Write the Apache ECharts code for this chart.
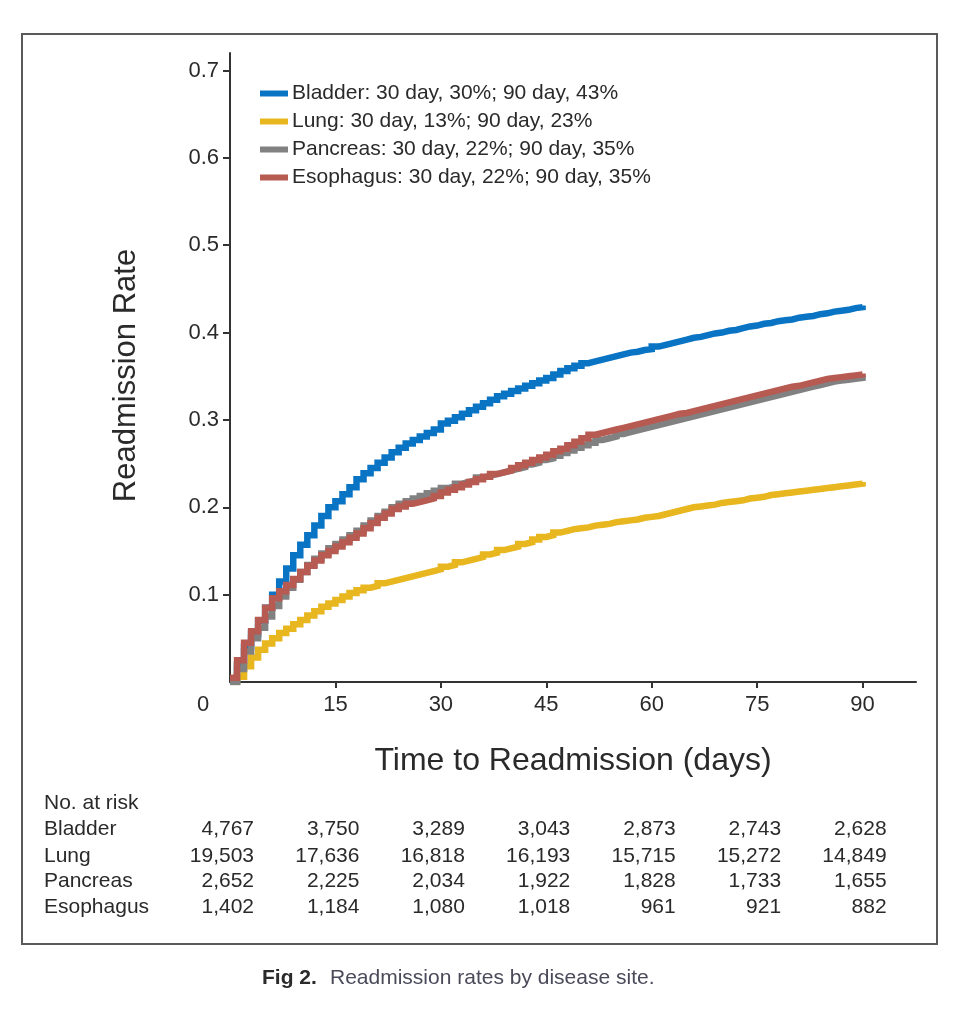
<!DOCTYPE html>
<html>
<head>
<meta charset="utf-8">
<script src="https://cdn.jsdelivr.net/npm/echarts@6/dist/echarts.min.js"></script>
<style>
html,body{margin:0;padding:0;background:#fff;}
#chart{width:978px;height:1032px;}
</style>
</head>
<body>
<div id="chart"></div>
<script>
// ---- data ----
var days = [];
for (var i = 0; i <= 90; i++) days.push(i);

var bladder = [0,0.02,0.04,0.055,0.07,0.085,0.10,0.115,0.13,0.145,0.157,0.168,0.179,0.19,0.20,0.207,0.215,0.223,0.232,0.239,0.245,0.251,0.257,0.263,0.268,0.273,0.277,0.281,0.285,0.289,0.296,0.299,0.303,0.307,0.311,0.315,0.319,0.323,0.327,0.330,0.333,0.336,0.339,0.342,0.345,0.348,0.352,0.356,0.359,0.362,0.365,0.367,0.369,0.371,0.373,0.375,0.377,0.378,0.380,0.381,0.384,0.386,0.388,0.390,0.392,0.394,0.395,0.397,0.399,0.400,0.402,0.403,0.405,0.407,0.408,0.410,0.411,0.413,0.414,0.415,0.417,0.418,0.419,0.421,0.422,0.424,0.425,0.426,0.428,0.429,0.431];

var lung = [0,0.006,0.018,0.028,0.037,0.044,0.050,0.056,0.061,0.066,0.071,0.076,0.081,0.086,0.090,0.094,0.098,0.102,0.105,0.108,0.110,0.113,0.115,0.117,0.119,0.121,0.123,0.125,0.127,0.129,0.132,0.134,0.137,0.139,0.141,0.143,0.146,0.148,0.151,0.153,0.155,0.158,0.160,0.163,0.166,0.168,0.171,0.173,0.175,0.176,0.177,0.179,0.180,0.181,0.183,0.184,0.185,0.186,0.188,0.189,0.190,0.192,0.194,0.196,0.198,0.200,0.201,0.202,0.203,0.205,0.206,0.207,0.208,0.210,0.211,0.212,0.214,0.215,0.216,0.217,0.218,0.219,0.220,0.221,0.222,0.223,0.224,0.225,0.226,0.227,0.229];

var pancreas = [0,0.015,0.035,0.05,0.062,0.075,0.087,0.098,0.108,0.117,0.126,0.134,0.141,0.147,0.153,0.158,0.163,0.168,0.173,0.179,0.185,0.190,0.195,0.200,0.204,0.207,0.210,0.213,0.216,0.219,0.222,0.224,0.227,0.229,0.231,0.234,0.236,0.238,0.240,0.242,0.244,0.246,0.249,0.251,0.254,0.256,0.259,0.262,0.265,0.268,0.271,0.274,0.277,0.279,0.281,0.284,0.286,0.288,0.290,0.292,0.294,0.296,0.298,0.300,0.302,0.304,0.306,0.308,0.310,0.312,0.314,0.316,0.318,0.320,0.322,0.324,0.326,0.328,0.330,0.332,0.334,0.336,0.338,0.340,0.342,0.344,0.345,0.346,0.347,0.348,0.350];

var esophagus = [0.005,0.025,0.045,0.058,0.071,0.085,0.096,0.104,0.111,0.118,0.126,0.133,0.139,0.145,0.150,0.155,0.160,0.165,0.170,0.176,0.182,0.188,0.193,0.198,0.201,0.204,0.206,0.208,0.210,0.213,0.217,0.220,0.223,0.226,0.229,0.232,0.235,0.238,0.240,0.242,0.245,0.248,0.251,0.254,0.257,0.260,0.264,0.267,0.271,0.275,0.279,0.283,0.285,0.287,0.289,0.291,0.293,0.295,0.297,0.299,0.301,0.303,0.305,0.307,0.308,0.310,0.312,0.314,0.316,0.318,0.320,0.322,0.324,0.326,0.328,0.330,0.332,0.334,0.336,0.338,0.339,0.341,0.343,0.345,0.347,0.348,0.349,0.350,0.351,0.352,0.353];

var seriesNames = ['Bladder: 30 day, 30%; 90 day, 43%','Lung: 30 day, 13%; 90 day, 23%','Pancreas: 30 day, 22%; 90 day, 35%','Esophagus: 30 day, 22%; 90 day, 35%'];
var xTickLabels = [0,15,30,45,60,75,90];
var yTickLabels = [0.1,0.2,0.3,0.4,0.5,0.6,0.7];

var riskSites = ['Bladder','Lung','Pancreas','Esophagus'];
var riskBladder = ['4,767','3,750','3,289','3,043','2,873','2,743','2,628'];
var riskLung = ['19,503','17,636','16,818','16,193','15,715','15,272','14,849'];
var riskPancreas = ['2,652','2,225','2,034','1,922','1,828','1,733','1,655'];
var riskEsophagus = ['1,402','1,184','1,080','1,018','961','921','882'];

// ---- chart ----
var colors = ['#0a74c4','#e8b61e','#818181','#b65a52'];
var chart = echarts.init(document.getElementById('chart'));
function pairs(arr){ return days.map(function(d,i){ return [d, arr[i]]; }); }
var allValues = [bladder, lung, pancreas, esophagus];
var FONT = '"Liberation Sans", Arial, sans-serif';

var option = {
  animation: false,
  backgroundColor: '#fff',
  grid: {left: 230, right: 62, top: 53, bottom: 350, containLabel: false},
  legend: {
    orient: 'vertical', left: 255, top: 78,
    itemWidth: 28, itemHeight: 6, itemGap: 7,
    icon: 'rect',
    textStyle: {fontFamily: FONT, fontSize: 21, color: '#2a2a2a', padding: [0,0,0,-1]},
    data: seriesNames
  },
  xAxis: {
    type: 'value', min: 0, max: 97.6,
    name: 'Time to Readmission (days)', nameLocation: 'middle', nameGap: 63,
    nameTextStyle: {fontFamily: FONT, fontSize: 32, color: '#2a2a2a'},
    axisLine: {show: true, onZero: false, lineStyle: {color: '#333', width: 2}},
    axisTick: {show: true, length: 6, lineStyle: {color: '#333', width: 2}, customValues: xTickLabels.slice(1)},
    axisLabel: {
      fontFamily: FONT, fontSize: 22, color: '#2a2a2a', margin: 12,
      customValues: xTickLabels,
      formatter: function(v){ return v === 0 ? '{z|0}' : String(v); },
      rich: {z: {fontFamily: FONT, fontSize: 22, color: '#2a2a2a', padding: [0,54,0,0]}}
    },
    splitLine: {show: false}
  },
  yAxis: {
    type: 'value', min: 0, max: 0.72,
    name: 'Readmission Rate', nameLocation: 'middle', nameGap: 88,
    nameTextStyle: {fontFamily: FONT, fontSize: 31, color: '#2a2a2a', padding: [0,16,0,0]},
    axisLine: {show: true, onZero: false, lineStyle: {color: '#333', width: 2}},
    axisTick: {show: true, length: 7, lineStyle: {color: '#333', width: 2}, customValues: yTickLabels},
    axisLabel: {fontFamily: FONT, fontSize: 22, color: '#2a2a2a', margin: 11, customValues: yTickLabels,
      formatter: function(v){ return v.toFixed(1); }},
    splitLine: {show: false}
  },
  series: seriesNames.map(function(n, i){
    return {
      name: n, type: 'line', step: 'end', showSymbol: false, symbol: 'none',
      data: pairs(allValues[i]),
      color: colors[i],
      lineStyle: {color: colors[i], width: 6.5, join: 'miter', cap: 'butt'},
      z: 2 + i
    };
  })
};
chart.setOption(option);

// risk table positioned with the x scale
var riskRows = [riskBladder, riskLung, riskPancreas, riskEsophagus];
var rowY = [829, 856, 881, 907];
var g = [];
g.push({type: 'rect', shape: {x: 22, y: 34, width: 915, height: 910}, style: {fill: 'none', stroke: '#5a5a5a', lineWidth: 2}, z: 0});
g.push({type: 'text', x: 44, y: 803, style: {text: 'No. at risk', font: '21px ' + FONT, fill: '#2a2a2a', textVerticalAlign: 'middle'}});
riskSites.forEach(function(s, r){
  g.push({type: 'text', x: 44, y: rowY[r], style: {text: s, font: '21px ' + FONT, fill: '#2a2a2a', textVerticalAlign: 'middle'}});
  riskRows[r].forEach(function(val, c){
    var px = chart.convertToPixel({xAxisIndex: 0}, xTickLabels[c]);
    g.push({type: 'text', x: px + 24, y: rowY[r], style: {text: val, font: '21px ' + FONT, fill: '#2a2a2a', textAlign: 'right', textVerticalAlign: 'middle'}});
  });
});
g.push({type: 'text', x: 262, y: 978, style: {text: 'Fig 2.', font: 'bold 21px ' + FONT, fill: '#2a2a2a', textVerticalAlign: 'middle'}});
g.push({type: 'text', x: 330, y: 978, style: {text: 'Readmission rates by disease site.', font: '21px ' + FONT, fill: '#4a4a5a', textVerticalAlign: 'middle'}});
chart.setOption({graphic: g});
</script>
</body>
</html>
